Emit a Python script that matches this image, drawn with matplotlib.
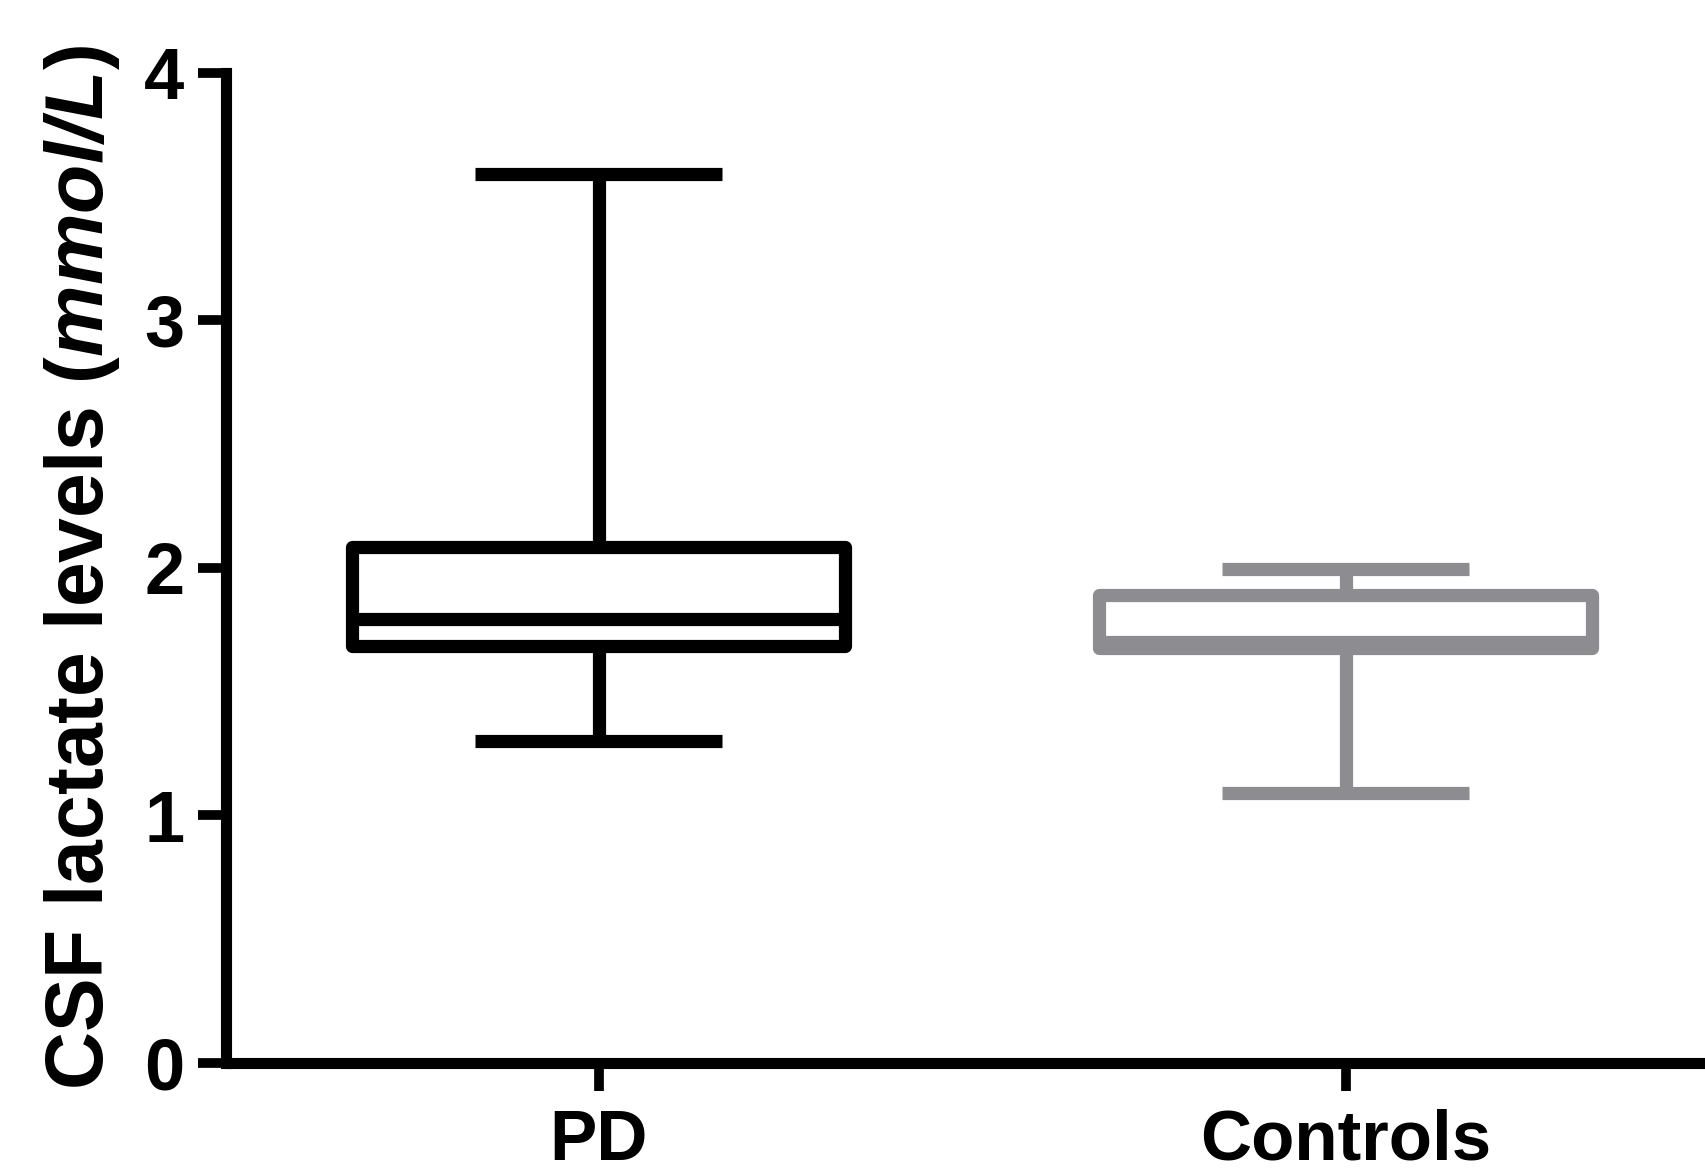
import matplotlib
matplotlib.use("Agg")
import matplotlib.pyplot as plt

# данные
groups = ["PD", "Controls"]
whislo = [1.30, 1.09]
q1 = [1.685, 1.675]
med = [1.794, 1.70]
q3 = [2.085, 1.89]
whishi = [3.59, 1.995]
colors = ["black", "#8d8d91"]

plt.rcParams['font.family'] = ['Liberation Sans', 'DejaVu Sans']
plt.rcParams['font.weight'] = 'bold'
plt.rcParams['mathtext.fontset'] = 'custom'
plt.rcParams['mathtext.rm'] = 'Liberation Sans:bold'
plt.rcParams['mathtext.bfit'] = 'Liberation Sans:italic:bold'

fig = plt.figure(figsize=(17.05, 11.73), dpi=100)
ax = fig.add_axes([0.1325, 0.0938, 0.8675, 0.844])

for i, g in enumerate(groups):
    stats = [dict(label=g, whislo=whislo[i], q1=q1[i], med=med[i],
                  q3=q3[i], whishi=whishi[i], fliers=[])]
    c = colors[i]
    lp = dict(color=c, linewidth=9.5, solid_capstyle='butt')
    bp = dict(facecolor='white', edgecolor=c, linewidth=9.5, joinstyle='round')
    ax.bxp(stats, positions=[i + 1], widths=0.66, capwidths=0.33,
           showfliers=False, patch_artist=True, boxprops=bp,
           medianprops=lp, whiskerprops=lp, capprops=lp)

ax.set_xlim(0.501, 2.481)
ax.set_ylim(0, 4)
ax.set_yticks([0, 1, 2, 3, 4])
ax.set_xticks([1, 2])
ax.set_xticklabels(groups)

for s in ['top', 'right']:
    ax.spines[s].set_visible(False)
ax.spines['left'].set_linewidth(8)
ax.spines['bottom'].set_linewidth(8)
ax.spines['left'].set_capstyle('projecting')
ax.spines['bottom'].set_capstyle('butt')

ax.tick_params(axis='y', length=20, width=7, pad=10, labelsize=52)
ax.tick_params(axis='x', length=20, width=7, pad=13, labelsize=51)
for lab in ax.get_xticklabels() + ax.get_yticklabels():
    lab.set_fontweight('bold')

ax.set_ylabel(r"CSF lactate levels ($\mathbfit{mmol/L}$)", fontsize=58,
              fontweight='bold', labelpad=16)

fig.savefig("out.png", dpi=100)
